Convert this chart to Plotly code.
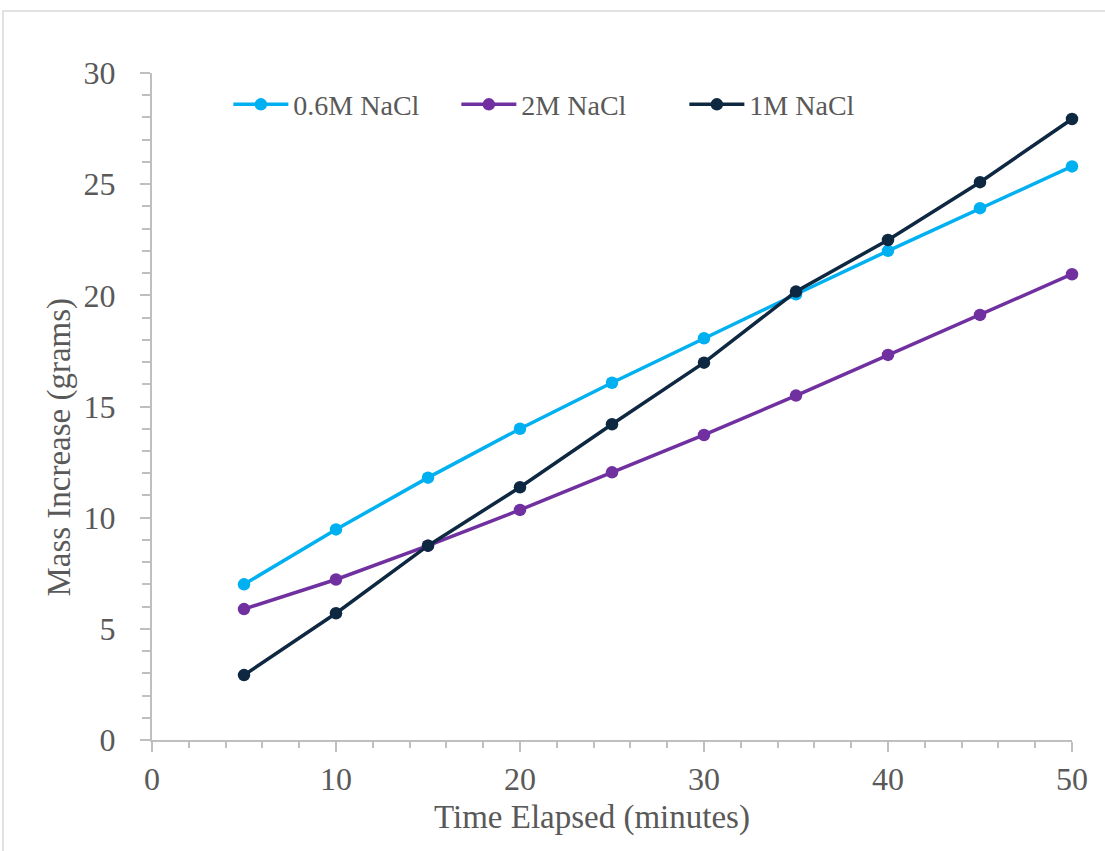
import plotly.graph_objects as go

time_min = [5, 10, 15, 20, 25, 30, 35, 40, 45, 50]
nacl_06 = [7.0, 9.47, 11.8, 14.0, 16.07, 18.07, 20.05, 22.0, 23.92, 25.8]
nacl_2 = [5.89, 7.22, 8.74, 10.35, 12.04, 13.72, 15.49, 17.32, 19.12, 20.95]
nacl_1 = [2.92, 5.7, 8.74, 11.37, 14.2, 16.97, 20.17, 22.49, 25.09, 27.93]

series = [
    ("0.6M NaCl", nacl_06, "#00B0F0"),
    ("2M NaCl", nacl_2, "#7030A0"),
    ("1M NaCl", nacl_1, "#0E2841"),
]

FONT = "Liberation Serif"
GREY = "#595959"
AXIS = "#BFBFBF"

fig = go.Figure()
for name, vals, col in series:
    fig.add_trace(go.Scatter(
        x=time_min, y=vals, name=name, mode="lines+markers",
        line=dict(color=col, width=3.5),
        marker=dict(color=col, size=12.5),
        cliponaxis=False,
    ))

fig.update_layout(
    width=1105, height=851,
    margin=dict(l=152, r=33, t=73, b=111),
    paper_bgcolor="white", plot_bgcolor="white",
    font=dict(family=FONT, color=GREY),
    showlegend=True,
    legend=dict(
        orientation="h", x=0.083, y=0.99, xanchor="left", yanchor="top",
        font=dict(family=FONT, size=28, color=GREY),
        itemwidth=55,
        entrywidth=158, entrywidthmode="pixels",
        bgcolor="rgba(0,0,0,0)",
    ),
    xaxis=dict(
        range=[0, 50], dtick=10, tick0=0, showgrid=False, zeroline=False,
        showline=True, linecolor=AXIS, linewidth=2,
        ticks="outside", ticklen=10, tickwidth=2, tickcolor=AXIS,
        minor=dict(dtick=2, ticks="outside", ticklen=6, tickwidth=2, tickcolor=AXIS, showgrid=False),
        tickfont=dict(family=FONT, size=32, color=GREY),
        ticklabelstandoff=0,
    ),
    yaxis=dict(
        range=[0, 30], dtick=5, tick0=0, showgrid=False, zeroline=False,
        showline=True, linecolor=AXIS, linewidth=2,
        ticks="outside", ticklen=10, tickwidth=2, tickcolor=AXIS,
        minor=dict(dtick=1, ticks="outside", ticklen=8, tickwidth=2, tickcolor=AXIS, showgrid=False),
        tickfont=dict(family=FONT, size=32, color=GREY),
        ticklabelstandoff=18,
    ),
    annotations=[
        dict(text="Time Elapsed (minutes)", xref="paper", yref="paper",
             x=0.478, y=-0.116, xanchor="center", yanchor="middle", showarrow=False,
             font=dict(family=FONT, size=33, color=GREY)),
        dict(text="Mass Increase (grams)", xref="paper", yref="paper",
             x=-0.101, y=0.4385, xanchor="center", yanchor="middle", showarrow=False,
             textangle=-90, font=dict(family=FONT, size=33, color=GREY)),
    ],
    shapes=[
        dict(type="rect", xref="paper", yref="paper",
             x0=(3 - 152) / 920, x1=(1110 - 152) / 920,
             y0=(740 - 860) / 667, y1=(740 - 11) / 667,
             line=dict(color="#D9D9D9", width=1.5), fillcolor="rgba(0,0,0,0)", layer="below"),
    ],
)

fig.write_html("out.html")
